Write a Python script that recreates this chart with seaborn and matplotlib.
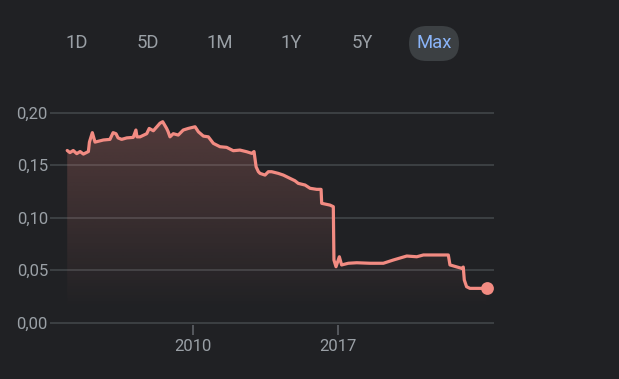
import numpy as np
import pandas as pd
import matplotlib
matplotlib.use("Agg")
import matplotlib.pyplot as plt
from matplotlib.patches import FancyBboxPatch
from matplotlib.transforms import IdentityTransform
import seaborn as sns

# ---- data ----
years = [2003.94, 2004.07, 2004.23, 2004.40, 2004.56, 2004.72, 2004.96, 2005.01, 2005.15, 2005.28,
         2005.68, 2006.00, 2006.15, 2006.29, 2006.39, 2006.56, 2006.81, 2007.12, 2007.25, 2007.30,
         2007.45, 2007.77, 2007.89, 2008.09, 2008.41, 2008.54, 2008.73, 2008.80, 2008.89, 2009.05,
         2009.29, 2009.53, 2009.77, 2010.10, 2010.26, 2010.50, 2010.74, 2010.98, 2011.30, 2011.62,
         2011.94, 2012.26, 2012.59, 2012.83, 2012.94, 2013.04, 2013.15, 2013.23, 2013.47, 2013.63,
         2013.79, 2014.11, 2014.35, 2014.67, 2014.91, 2015.07, 2015.40, 2015.64, 2015.96, 2016.17,
         2016.20, 2016.60, 2016.76, 2016.79, 2016.89, 2017.05, 2017.16, 2017.48, 2017.89, 2018.53,
         2019.17, 2019.65, 2020.30, 2020.78, 2021.10, 2022.30, 2022.38, 2022.94, 2023.02, 2023.07,
         2023.18, 2023.34, 2024.15]
values = [0.164, 0.162, 0.164, 0.161, 0.163, 0.1606, 0.163, 0.172, 0.181, 0.172,
          0.174, 0.1746, 0.181, 0.180, 0.176, 0.1746, 0.176, 0.1765, 0.1835, 0.177,
          0.177, 0.180, 0.185, 0.1828, 0.190, 0.1914, 0.185, 0.182, 0.177, 0.180,
          0.1787, 0.1835, 0.185, 0.1866, 0.1818, 0.1777, 0.177, 0.1708, 0.1676, 0.167,
          0.1638, 0.1644, 0.1628, 0.1613, 0.163, 0.1485, 0.1438, 0.1422, 0.1406, 0.1438,
          0.1438, 0.1422, 0.1406, 0.1375, 0.1352, 0.1327, 0.1311, 0.128, 0.127, 0.127,
          0.1137, 0.112, 0.1105, 0.0597, 0.0533, 0.0628, 0.055, 0.0566, 0.0571, 0.0566,
          0.0566, 0.0597, 0.0635, 0.0628, 0.0645, 0.0645, 0.055, 0.0518, 0.053, 0.0407,
          0.0343, 0.0327, 0.0327]
y_ticks = [0.00, 0.05, 0.10, 0.15, 0.20]
y_tick_labels = ["0,00", "0,05", "0,10", "0,15", "0,20"]
x_ticks = [2010, 2017]
x_tick_labels = ["2010", "2017"]
ranges = ["1D", "5D", "1M", "1Y", "5Y", "Max"]

df = pd.DataFrame({"year": years, "value": values})

BG = "#202124"
GRID = "#3c4043"
LINE = "#f28b82"
TXT = "#9aa0a6"

sns.set_theme(style="dark")
plt.rcParams["font.family"] = ["Roboto", "DejaVu Sans"]

W, H = 619, 379
fig = plt.figure(figsize=(W / 100, H / 100), dpi=100, facecolor=BG)

# axes placement (pixel-based)
ylo, yhi = -0.002, 0.202
ppu = 210.0 / 0.2
x_left_px, x_right_px = 50, 494
y_bottom_px = 322.7 + (0 - ylo) * ppu
y_top_px = 112.7 - (yhi - 0.2) * ppu
ax = fig.add_axes([x_left_px / W, 1 - y_bottom_px / H,
                   (x_right_px - x_left_px) / W, (y_bottom_px - y_top_px) / H])
ax.set_facecolor(BG)

pxyr = 20.757
xlo = 2010 - (193 - x_left_px) / pxyr
xhi = 2010 + (x_right_px - 193) / pxyr
ax.set_xlim(xlo, xhi)
ax.set_ylim(ylo, yhi)

# grid
for yt in y_ticks:
    ax.axhline(yt, color=GRID, lw=1.4, zorder=1)

# gradient fill under the line
poly = ax.fill_between(df["year"], df["value"], 0, color="none", lw=0)
grad_n = 256
gy = np.linspace(0, 0.2, grad_n)
alpha = np.clip(1.35 * (gy - 0.012), 0, 1)
rgba = np.zeros((grad_n, 1, 4))
r, g, b = matplotlib.colors.to_rgb(LINE)
rgba[:, 0, 0] = r
rgba[:, 0, 1] = g
rgba[:, 0, 2] = b
rgba[:, 0, 3] = alpha
im = ax.imshow(rgba, extent=[years[0], years[-1], 0, 0.2], origin="lower",
               aspect="auto", zorder=2, interpolation="bilinear")
path = poly.get_paths()[0]
im.set_clip_path(path, transform=ax.transData)

sns.lineplot(data=df, x="year", y="value", ax=ax, color=LINE, lw=2.3, zorder=4,
             estimator=None, sort=False)
ax.scatter([years[-1]], [values[-1]], s=85, color=LINE, zorder=5, lw=0, clip_on=False)

# ticks
ax.set_yticks(y_ticks)
ax.set_yticklabels(y_tick_labels)
ax.set_xticks(x_ticks)
ax.set_xticklabels(x_tick_labels)
ax.tick_params(axis="y", length=0, pad=1.5, labelsize=12, labelcolor=TXT)
ax.tick_params(axis="x", length=7.5, width=1.2, color="#5f6368", direction="out",
               pad=2.5, labelsize=12, labelcolor=TXT, bottom=True)
ax.set_xlabel("")
ax.set_ylabel("")
ax.grid(False)
for s in ax.spines.values():
    s.set_visible(False)

# range selector buttons
btn_x = [77, 148, 220, 291, 362, 434]
btn_y = 43
pill = FancyBboxPatch((409, H - 61), 50, 35,
                      boxstyle="round,pad=0,rounding_size=17.5",
                      transform=IdentityTransform(), facecolor="#3c4043", edgecolor="none")
fig.patches.append(pill)
for lbl, bx in zip(ranges, btn_x):
    fig.text(bx / W, 1 - btn_y / H, lbl, ha="center", va="center", fontsize=13.3,
             color="#8ab4f8" if lbl == "Max" else TXT)

fig.savefig("out.png", dpi=100, facecolor=BG)
